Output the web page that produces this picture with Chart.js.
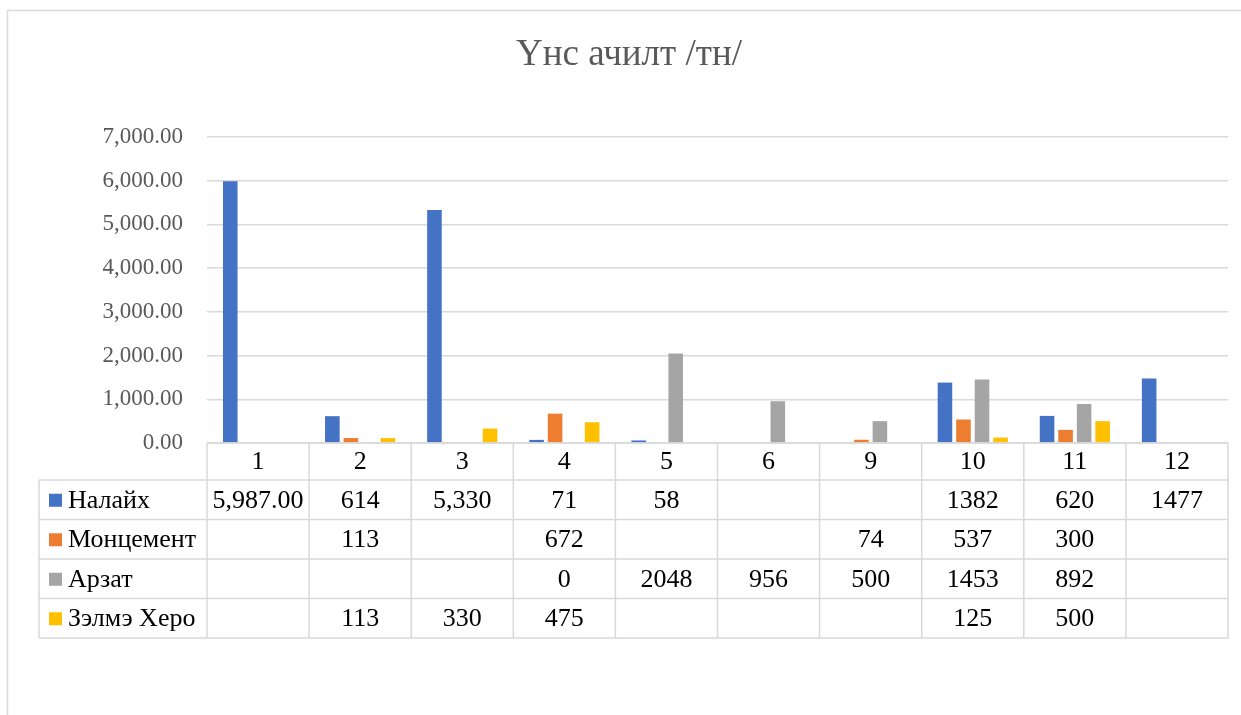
<!DOCTYPE html>
<html>
<head>
<meta charset="utf-8">
<script src="https://cdn.jsdelivr.net/npm/chart.js@4/dist/chart.umd.min.js"></script>
<style>
  html, body { margin: 0; padding: 0; background: #fff; }
  #wrap { width: 1241px; height: 715px; }
</style>
</head>
<body>
<div id="wrap"><canvas id="chart"></canvas></div>
<script>
// chart data
const titleText = 'Үнс ачилт /тн/'
const categories = ['1', '2', '3', '4', '5', '6', '9', '10', '11', '12']
const seriesNames = ['Налайх', 'Монцемент', 'Арзат', 'Зэлмэ Херо']
const nalaikh = [5987, 614, 5330, 71, 58, null, null, 1382, 620, 1477]
const moncement = [null, 113, null, 672, null, null, 74, 537, 300, null]
const arzat = [null, null, null, 0, 2048, 956, 500, 1453, 892, null]
const zelmeKhero = [null, 113, 330, 475, null, null, null, 125, 500, null]
const colors = ['#4472C4', '#ED7D31', '#A5A5A5', '#FFC000']
const yTicks = [0, 1000, 2000, 3000, 4000, 5000, 6000, 7000]

// a few cells in the data table carry their own number format
const cellFormat = { '0-0': 'fixed2', '0-2': 'comma' }

const allSeries = [nalaikh, moncement, arzat, zelmeKhero]
const gridColor = '#d9d9d9'
const serif = '"Liberation Serif", "Times New Roman", serif'

function cellText(row, col) {
  const v = allSeries[row][col]
  if (v === null) return ''
  const f = cellFormat[row + '-' + col]
  if (f === 'fixed2') return v.toLocaleString('en-US', { minimumFractionDigits: 2, maximumFractionDigits: 2 })
  if (f === 'comma') return v.toLocaleString('en-US')
  return String(v)
}

// frame, title and the data table under the bars
const tablePlugin = {
  id: 'excelTable',
  beforeDraw(chart) {
    const ctx = chart.ctx
    ctx.save()
    ctx.strokeStyle = gridColor
    ctx.lineWidth = 1.5
    ctx.strokeRect(7.5, 10.5, 1400, 900)
    ctx.fillStyle = '#595959'
    ctx.font = '37px ' + serif
    ctx.textAlign = 'center'
    ctx.textBaseline = 'middle'
    ctx.fillText(titleText, 629, 55)
    ctx.restore()
  },
  afterDraw(chart) {
    const ctx = chart.ctx
    const x = chart.scales.x
    const area = chart.chartArea
    const colW = (area.right - area.left) / categories.length
    const headTop = area.bottom
    const headH = 37
    const rowH = 39.5
    const tableLeft = 39
    const rowsTop = headTop + headH
    const rowsBottom = rowsTop + rowH * seriesNames.length

    ctx.save()
    ctx.strokeStyle = gridColor
    ctx.lineWidth = 1.5
    ctx.beginPath()
    // horizontal lines
    ctx.moveTo(area.left, headTop); ctx.lineTo(area.right, headTop)
    for (let r = 0; r <= seriesNames.length; r++) {
      const y = rowsTop + r * rowH
      ctx.moveTo(tableLeft, y); ctx.lineTo(area.right, y)
    }
    // vertical lines
    ctx.moveTo(tableLeft, rowsTop); ctx.lineTo(tableLeft, rowsBottom)
    for (let c = 0; c <= categories.length; c++) {
      const xx = area.left + c * colW
      ctx.moveTo(xx, headTop); ctx.lineTo(xx, rowsBottom)
    }
    ctx.stroke()

    ctx.fillStyle = '#000'
    ctx.font = '26px ' + serif
    ctx.textAlign = 'center'
    ctx.textBaseline = 'middle'
    categories.forEach(function (cat, c) {
      ctx.fillText(cat, x.getPixelForValue(c), headTop + headH / 2 + 1)
    })
    seriesNames.forEach(function (name, r) {
      const cy = rowsTop + r * rowH + rowH / 2 + 1
      ctx.fillStyle = colors[r]
      ctx.fillRect(49, cy - 7, 13, 13)
      ctx.fillStyle = '#000'
      ctx.textAlign = 'left'
      ctx.fillText(name, 68, cy)
      ctx.textAlign = 'center'
      categories.forEach(function (cat, c) {
        ctx.fillText(cellText(r, c), x.getPixelForValue(c), cy)
      })
    })
    ctx.restore()
  }
}

new Chart(document.getElementById('chart'), {
  type: 'bar',
  data: {
    labels: categories,
    datasets: seriesNames.map(function (name, i) {
      return {
        label: name,
        data: allSeries[i],
        backgroundColor: colors[i],
        categoryPercentage: 0.726,
        barPercentage: 0.787
      }
    })
  },
  options: {
    responsive: true,
    maintainAspectRatio: false,
    animation: false,
    layout: { padding: { left: 0, right: 13, top: 137, bottom: 272 } },
    plugins: {
      legend: { display: false },
      title: { display: false },
      tooltip: { enabled: false }
    },
    scales: {
      x: { display: false },
      y: {
        min: 0,
        max: 7000,
        afterBuildTicks: function (scale) {
          scale.ticks = yTicks.map(function (v) { return { value: v } })
        },
        afterFit: function (scale) { scale.width = 207 },
        border: { display: false },
        grid: { color: gridColor, lineWidth: 1.5, drawTicks: false },
        ticks: {
          color: '#595959',
          padding: 24,
          font: { family: serif, size: 23 },
          callback: function (v) {
            return v.toLocaleString('en-US', { minimumFractionDigits: 2, maximumFractionDigits: 2 })
          }
        }
      }
    }
  },
  plugins: [tablePlugin]
})
</script>
</body>
</html>
